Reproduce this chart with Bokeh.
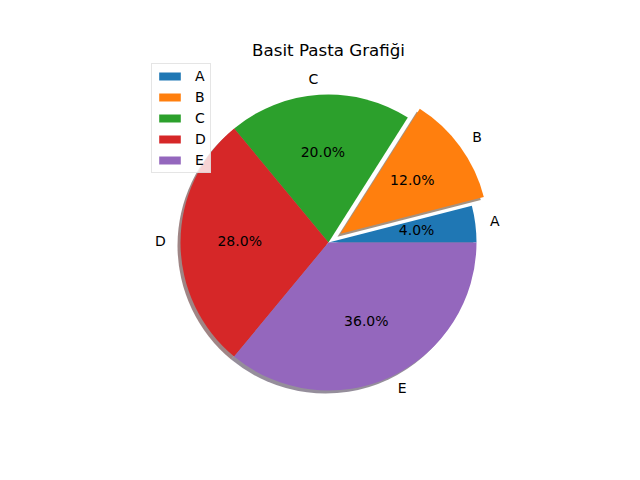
import numpy as np
from bokeh.plotting import figure
from bokeh.models import Range1d, Legend, LegendItem, ColumnDataSource
from bokeh.core.properties import value
from bokeh.embed import file_html
from bokeh.resources import INLINE

# ---- data ----
labels = ["A", "B", "C", "D", "E"]
sizes = [4, 12, 20, 28, 36]
explode = [0, 0.1, 0, 0, 0]
colors = ["#1f77b4", "#ff7f0e", "#2ca02c", "#d62728", "#9467bd"]
title = "Basit Pasta Grafiği"

# ---- geometry (data units == screen pixels, y up) ----
W, H = 624, 464
CX, CY = 328, 480 - 242
R = 148
FONT = value("DejaVu Sans")
TXT_DY = 1.5  # small vertical nudge to match text centring

p = figure(width=W, height=H, x_range=Range1d(0, W), y_range=Range1d(480 - H, 480),
           output_backend="svg", toolbar_location=None, min_border=0,
           x_axis_location=None, y_axis_location=None)
p.grid.visible = False
p.outline_line_color = None

vals = np.array(sizes, dtype=float)
fr = vals / vals.sum()
ends = 2 * np.pi * np.cumsum(fr)
starts = ends - 2 * np.pi * fr
mids = (starts + ends) / 2
off = np.array(explode) * R
cx = CX + off * np.cos(mids)
cy = CY + off * np.sin(mids)


def shade(h, f=0.3):
    h = h.lstrip("#")
    r, g, b = (int(h[i:i + 2], 16) for i in (0, 2, 4))
    return "#%02x%02x%02x" % (int(r * f), int(g * f), int(b * f))


shadow_src = ColumnDataSource(dict(x=cx - 3, y=cy - 3, s=starts, e=ends,
                                   c=[shade(c) for c in colors]))
p.wedge(x="x", y="y", radius=R, start_angle="s", end_angle="e", fill_color="c",
        fill_alpha=0.5, line_color=None, source=shadow_src)

src = ColumnDataSource(dict(x=cx, y=cy, s=starts, e=ends, c=colors, lab=labels))
wr = p.wedge(x="x", y="y", radius=R, start_angle="s", end_angle="e",
             fill_color="c", line_color=None, source=src)

# labels at 1.1 R
lx = cx + 1.1 * R * np.cos(mids)
ly = cy + 1.1 * R * np.sin(mids) + TXT_DY
for i, lab in enumerate(labels):
    al = "left" if np.cos(mids[i]) > 0 else "right"
    p.text(x=[lx[i]], y=[ly[i]], text=[lab], text_align=al, text_baseline="middle",
           text_font=FONT, text_font_size="14px", text_color="black")

# percentages at 0.6 R
px = cx + 0.6 * R * np.cos(mids)
py = cy + 0.6 * R * np.sin(mids) + TXT_DY
pct = ["%.1f%%" % (100 * f) for f in fr]
p.text(x=px, y=py, text=pct, text_align="center", text_baseline="middle",
       text_font=FONT, text_font_size="14px", text_color="black")

# title
p.text(x=[CX], y=[480 - 49.5], text=[title], text_align="center",
       text_baseline="alphabetic", text_font=FONT, text_font_size="16.7px",
       text_color="black")

items = [LegendItem(label=lab, renderers=[wr], index=i) for i, lab in enumerate(labels)]
legend = Legend(items=items, location=(151, 291), glyph_width=27, glyph_height=10,
                label_standoff=12, spacing=5, label_height=14, label_width=9,
                padding=4, margin=0,
                label_text_font="DejaVu Sans", label_text_font_size="14px",
                label_text_color="black",
                border_line_color="#cccccc", border_line_width=1,
                background_fill_alpha=0.8)
p.add_layout(legend)

open("out.html", "w").write(file_html(p, INLINE))
